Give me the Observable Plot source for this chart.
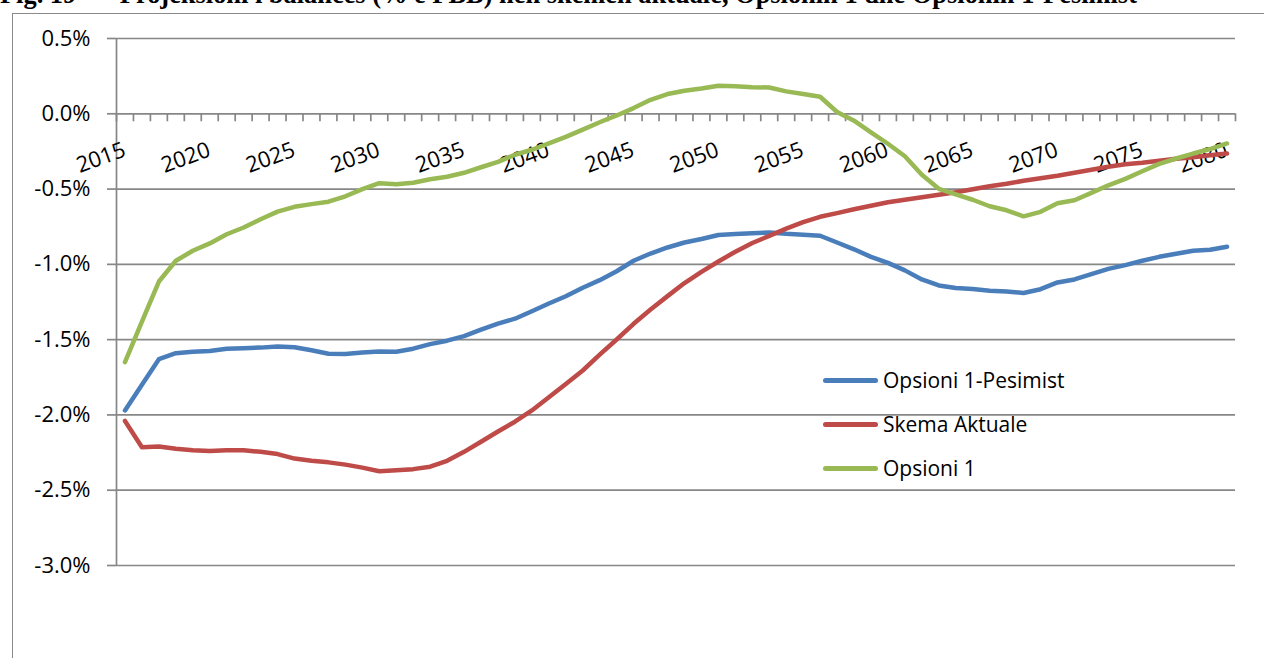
<!DOCTYPE html>
<html><head><meta charset="utf-8">
<script src="https://cdn.jsdelivr.net/npm/d3@7"></script>
<script src="https://cdn.jsdelivr.net/npm/@observablehq/plot@0.6"></script>
<style>
html,body{margin:0;padding:0;background:#fff;overflow:hidden;}
#wrap{position:relative;width:1264px;height:658px;overflow:hidden;}
.title{position:absolute;top:-19px;font:bold 26.4px/26px "Liberation Serif",serif;white-space:pre;color:#000;}
#frame{position:absolute;left:12px;top:13px;width:1300px;height:700px;border-left:1.5px solid #8a8a8a;border-top:1.5px solid #8a8a8a;}
#chart{position:absolute;left:0;top:0;}
#legend{position:absolute;left:823px;top:358px;font:21px "Open Sans",sans-serif;color:#000;}
.item{display:flex;align-items:center;height:44px;}
.sw{width:55px;height:5px;border-radius:3px;margin-right:5px;}
</style></head>
<body>
<div id="wrap">
  <div class="title" style="left:0">Fig. 19</div>
  <div class="title" style="left:100px">– Projeksioni i balancës (% e PBB) nën skemën aktuale, Opsionin 1 dhe Opsionin 1-Pesimist</div>
  <div id="frame"></div>
  <div id="chart"></div>
  <div id="legend"></div>
</div>
<script>
const years = [2015,2016,2017,2018,2019,2020,2021,2022,2023,2024,2025,2026,2027,2028,2029,2030,2031,2032,2033,2034,2035,2036,2037,2038,2039,2040,2041,2042,2043,2044,2045,2046,2047,2048,2049,2050,2051,2052,2053,2054,2055,2056,2057,2058,2059,2060,2061,2062,2063,2064,2065,2066,2067,2068,2069,2070,2071,2072,2073,2074,2075,2076,2077,2078,2079,2080];
const yearLabels = [2015,2020,2025,2030,2035,2040,2045,2050,2055,2060,2065,2070,2075,2080];
const yTicks = [0.5,0.0,-0.5,-1.0,-1.5,-2.0,-2.5,-3.0];
const seriesNames = ["Opsioni 1-Pesimist","Skema Aktuale","Opsioni 1"];
const seriesColors = ["#4A7EBB","#BE4B48","#98B954"];

const pesimist = [-1.97,-1.80,-1.63,-1.59,-1.58,-1.575,-1.56,-1.557,-1.553,-1.546,-1.55,-1.57,-1.594,-1.595,-1.586,-1.578,-1.58,-1.56,-1.53,-1.507,-1.477,-1.434,-1.394,-1.361,-1.311,-1.26,-1.212,-1.155,-1.105,-1.046,-0.976,-0.928,-0.888,-0.855,-0.832,-0.805,-0.799,-0.793,-0.788,-0.797,-0.803,-0.81,-0.855,-0.90,-0.95,-0.99,-1.04,-1.10,-1.14,-1.157,-1.164,-1.176,-1.18,-1.19,-1.165,-1.12,-1.10,-1.065,-1.03,-1.005,-0.976,-0.95,-0.93,-0.91,-0.903,-0.883];
const aktuale = [-2.04,-2.215,-2.21,-2.225,-2.235,-2.24,-2.235,-2.235,-2.245,-2.26,-2.29,-2.305,-2.315,-2.33,-2.35,-2.374,-2.367,-2.36,-2.344,-2.305,-2.245,-2.178,-2.11,-2.045,-1.97,-1.883,-1.795,-1.705,-1.60,-1.499,-1.395,-1.30,-1.211,-1.124,-1.05,-0.981,-0.916,-0.858,-0.811,-0.763,-0.72,-0.684,-0.66,-0.634,-0.611,-0.588,-0.571,-0.554,-0.538,-0.521,-0.501,-0.481,-0.465,-0.445,-0.428,-0.412,-0.392,-0.372,-0.352,-0.335,-0.325,-0.312,-0.299,-0.289,-0.276,-0.264];
const opsioni1 = [-1.65,-1.38,-1.114,-0.976,-0.91,-0.861,-0.80,-0.755,-0.70,-0.65,-0.618,-0.60,-0.584,-0.548,-0.50,-0.461,-0.468,-0.458,-0.435,-0.418,-0.392,-0.355,-0.319,-0.272,-0.239,-0.196,-0.153,-0.105,-0.056,-0.011,0.038,0.093,0.131,0.153,0.168,0.186,0.183,0.176,0.175,0.149,0.131,0.113,0.012,-0.046,-0.123,-0.199,-0.282,-0.405,-0.498,-0.535,-0.571,-0.614,-0.641,-0.681,-0.651,-0.594,-0.574,-0.525,-0.475,-0.432,-0.382,-0.333,-0.297,-0.264,-0.234,-0.197];

const series = [pesimist, aktuale, opsioni1];
const gray = "#878787";
const marginTop = 38, marginBottom = 93, H = 658;
const pxPerUnit = (H - marginTop - marginBottom) / 3.5;
const boundaries = years.map(y => y - 0.5).concat([years[years.length-1] + 0.5]);

const chart = Plot.plot({
  width: 1264, height: H,
  marginLeft: 116, marginRight: 29, marginTop, marginBottom,
  x: {domain: [years[0]-0.5, years[years.length-1]+0.5], axis: null},
  y: {domain: [-3, 0.5], axis: null},
  style: {fontFamily: "'Open Sans', sans-serif", background: "transparent", overflow: "visible"},
  marks: [
    Plot.gridY(yTicks, {stroke: gray, strokeOpacity: 1, strokeWidth: 1.7}),
    Plot.axisY(yTicks, {tickSize: 9, tickPadding: 17, stroke: gray, strokeWidth: 1.7, fill: "#000", fontSize: 22,
      tickFormat: d => d.toFixed(1) + "%"}),
    Plot.ruleX([years[0]-0.5], {y1: -3, y2: 0.5, stroke: gray, strokeWidth: 1.7}),
    Plot.ruleX(boundaries, {x: d => d, y1: 0, y2: -8 / pxPerUnit, stroke: gray, strokeWidth: 1.7}),
    Plot.text(yearLabels, {x: d => d, y: 0, text: d => String(d), rotate: -20, textAnchor: "end",
      lineAnchor: "bottom", dx: 2, dy: 42, fontSize: 22, fill: "#000"}),
    ...series.map((s, k) => Plot.line(s, {x: (d, i) => years[i], y: d => d, stroke: seriesColors[k],
      strokeWidth: 4.5, strokeLinejoin: "round", strokeLinecap: "round"}))
  ]
});
document.getElementById("chart").appendChild(chart);

const legend = document.getElementById("legend");
seriesNames.forEach((n, k) => {
  const it = document.createElement("div"); it.className = "item";
  const sw = document.createElement("div"); sw.className = "sw"; sw.style.background = seriesColors[k];
  const t = document.createElement("span"); t.textContent = n;
  it.appendChild(sw); it.appendChild(t); legend.appendChild(it);
});
</script>
</body></html>
